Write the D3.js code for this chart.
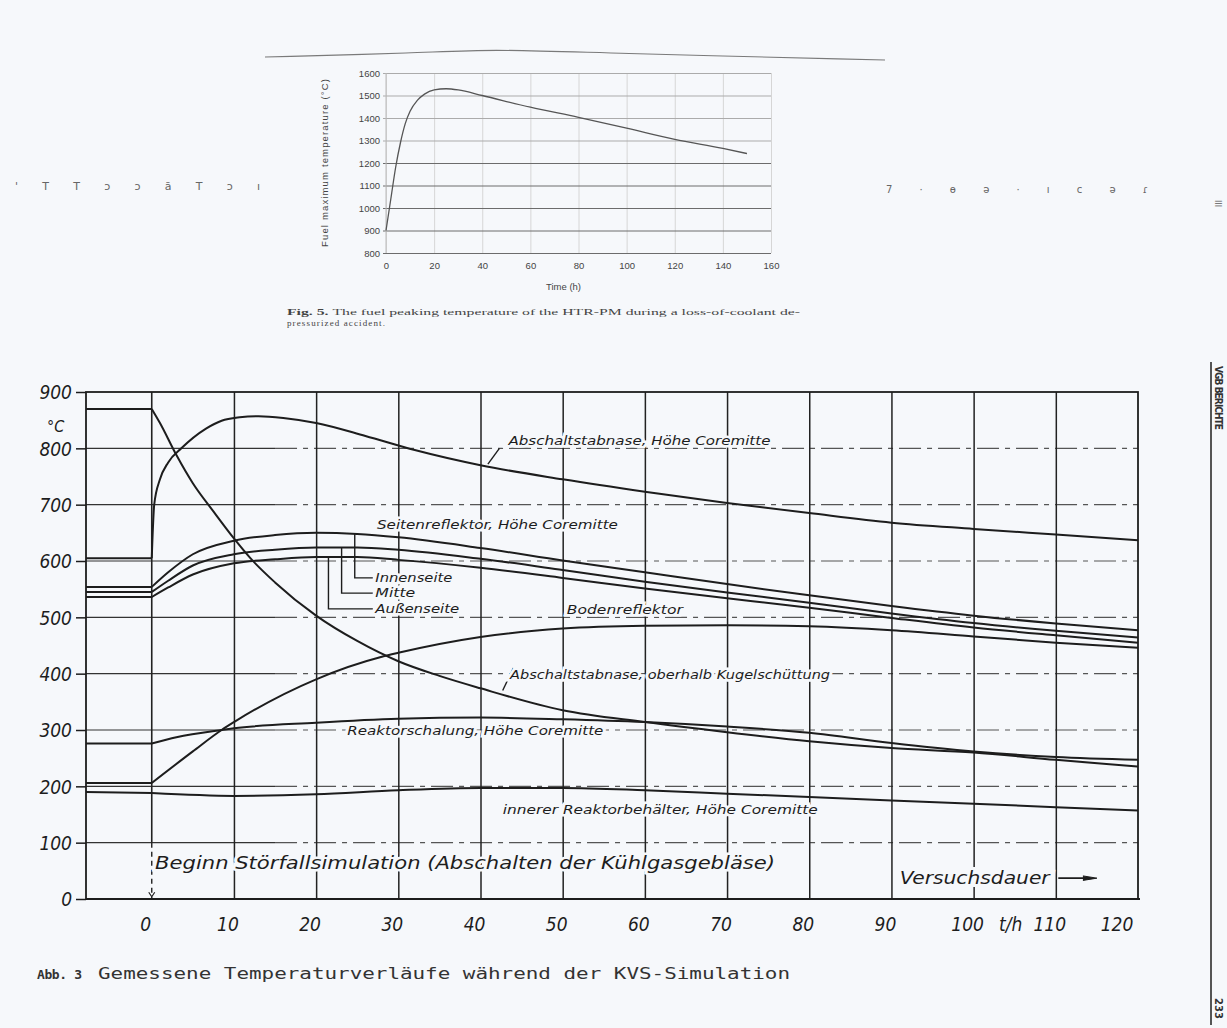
<!DOCTYPE html>
<html>
<head>
<meta charset="utf-8">
<script src="https://cdn.jsdelivr.net/npm/d3@7"></script>
<style>
  body { margin: 0; background: #f6f8fb; }
  svg { display: block; }
</style>
</head>
<body>
<script>
// ---- Fig. 5 (top): fuel peaking temperature, HTR-PM ----
var fuelHours = [0, 2, 4, 6, 8, 10, 13, 16, 20, 25, 30, 40, 60, 80, 100, 120, 140, 150];
var fuelTemp  = [900, 1040, 1180, 1290, 1375, 1430, 1478, 1506, 1525, 1530, 1525, 1500, 1448, 1403, 1355, 1305, 1265, 1242];
var fuelYTicks = [800, 900, 1000, 1100, 1200, 1300, 1400, 1500, 1600];
var fuelXTicks = [0, 20, 40, 60, 80, 100, 120, 140, 160];

// ---- Abb. 3 (bottom): measured temperatures, KVS simulation ----
var abCoreHours = [-8, 0, 0.3, 1, 2, 3.6, 6.6, 8.5, 10.7, 13, 16, 20, 26, 32, 40, 50, 60, 70, 80, 90, 100, 110, 120];
var abCoreTemp  = [605, 605, 700, 745, 775, 800, 835, 849, 855, 857, 854, 845, 822, 797, 770, 745, 723, 703, 685, 668, 657, 647, 637];

var abTopHours = [-8, 0, 1, 3, 5, 7.5, 10, 12, 15, 20, 25, 30, 35, 40, 50, 60, 70, 80, 90, 100, 110, 120];
var abTopTemp  = [870, 870, 845, 788, 738, 688, 640, 605, 562, 503, 458, 422, 396, 374, 335, 314, 296, 280, 268, 260, 247, 235];

var sideHours  = [-8, 0, 2, 5, 10, 15, 20, 25, 30, 40, 50, 60, 70, 80, 90, 100, 110, 120];
var innenTemp  = [554, 554, 580, 612, 636, 646, 650, 648, 642, 623, 601, 580, 559, 539, 520, 503, 489, 477];
var mitteTemp  = [545, 545, 565, 592, 612, 620, 624, 624, 620, 604, 584, 563, 544, 526, 507, 490, 476, 464];
var aussenTemp = [536, 536, 553, 576, 596, 603, 607, 607, 602, 588, 570, 551, 534, 517, 499, 482, 468, 455];

var bodenHours = [-8, 0, 5, 8.5, 10, 20, 28, 30, 40, 50, 60, 70, 80, 90, 100, 110, 120];
var bodenTemp  = [206, 206, 262, 300, 314, 390, 430, 437, 465, 480, 485, 486, 484, 477, 466, 455, 446];

var schalHours = [-8, 0, 3, 8.5, 10, 20, 30, 40, 50, 60, 70, 80, 90, 100, 110, 120];
var schalTemp  = [276, 276, 287, 300, 303, 313, 320, 322, 319, 314, 306, 295, 277, 262, 252, 247];

var behHours = [-8, 0, 10, 20, 30, 40, 50, 60, 70, 80, 90, 100, 110, 120];
var behTemp  = [190, 188, 183, 186, 193, 197, 197, 193, 187, 181, 175, 169, 163, 157];

var mainYTicks = [0, 100, 200, 300, 400, 500, 600, 700, 800, 900];
var mainXTicks = [0, 10, 20, 30, 40, 50, 60, 70, 80, 90, 100, 110, 120];

var W = 1227, H = 1028;
var paper = "#f6f8fb";
var ink = "#1d1d1d";

var svg = d3.select("body").append("svg").attr("width", W).attr("height", H);
svg.append("rect").attr("width", W).attr("height", H).attr("fill", paper);

// scan border line across the top
svg.append("path")
    .attr("d", d3.line().curve(d3.curveBasis)([[265, 57], [420, 53], [490, 49], [600, 53], [885, 60]]))
    .attr("fill", "none").attr("stroke", "#7a7a7a").attr("stroke-width", 1.1);

// garbled scan marks beside the small figure
svg.append("text").attr("x", 15).attr("y", 190).attr("textLength", 245)
    .style("font", "11px 'DejaVu Sans'").attr("fill", "#666").text("' T T ɔ ɔ ā T ɔ ı");
svg.append("text").attr("x", 886).attr("y", 193).attr("textLength", 262)
    .style("font", "10px 'DejaVu Sans'").attr("fill", "#666").text("7 · ɵ ə · ı c ə ɾ");

// ================= top figure =================
(function() {
    var fx = d3.scaleLinear().domain([0, 160]).range([386, 771]);
    var fy = d3.scaleLinear().domain([800, 1600]).range([253, 73]);
    var g = svg.append("g");
    var font = "9.5px 'Liberation Sans', Arial, sans-serif";

    var xa = g.append("g").attr("transform", "translate(0," + fy(800) + ")")
        .call(d3.axisBottom(fx).tickValues(fuelXTicks).tickSize(-(fy(800) - fy(1600))).tickPadding(9));
    xa.select(".domain").remove();
    xa.selectAll("line").attr("stroke", "#d6d6d6");
    xa.selectAll("text").style("font", font).attr("fill", "#444");

    var ya = g.append("g").attr("transform", "translate(" + fx(0) + ",0)")
        .call(d3.axisLeft(fy).tickValues(fuelYTicks).tickFormat(d3.format("d"))
            .tickSize(-(fx(160) - fx(0))).tickPadding(6));
    ya.select(".domain").remove();
    ya.selectAll("line")
        .attr("x1", -3)
        .attr("stroke", function(d) { return d <= 1200 ? "#6c6c6c" : "#ababab"; });
    ya.selectAll("text").style("font", font).attr("fill", "#444");

    g.append("line").attr("x1", fx(0)).attr("x2", fx(0)).attr("y1", fy(800)).attr("y2", fy(1600))
        .attr("stroke", "#bbb");

    var pts = fuelHours.map(function(h, i) { return [h, fuelTemp[i]]; });
    g.append("path")
        .attr("d", d3.line().x(function(d) { return fx(d[0]); }).y(function(d) { return fy(d[1]); })
            .curve(d3.curveMonotoneX)(pts))
        .attr("fill", "none").attr("stroke", "#555").attr("stroke-width", 1.3);

    g.append("text").attr("x", (fx(0) + fx(160)) / 2 - 15).attr("y", 290)
        .attr("text-anchor", "middle").style("font", font).attr("fill", "#444").text("Time (h)");
    g.append("text")
        .attr("transform", "translate(328," + ((fy(800) + fy(1600)) / 2) + ") rotate(-90)")
        .attr("text-anchor", "middle").attr("textLength", 168)
        .style("font", font).attr("fill", "#444").text("Fuel maximum temperature (°C)");

    var cap = g.append("text").attr("x", 287).attr("y", 315)
        .style("font", "9px 'Liberation Serif', serif").attr("fill", "#444");
    cap.append("tspan").style("font-weight", "bold").text("Fig. 5. ");
    cap.append("tspan").text(" The fuel peaking temperature of the HTR-PM during a loss-of-coolant de-");
    cap.attr("textLength", 513).attr("lengthAdjust", "spacingAndGlyphs");
    g.append("text").attr("x", 287).attr("y", 326).attr("textLength", 98)
        .style("font", "9px 'Liberation Serif', serif").attr("fill", "#444").text("pressurized accident.");
})();

// ================= main figure =================
var x = d3.scaleLinear().domain([-8, 120]).range([86, 1138]);
var y = d3.scaleLinear().domain([0, 900]).range([899, 392]);
var g = svg.append("g");

var labelFont = "'DejaVu Sans Condensed', 'DejaVu Sans', sans-serif";

// horizontal grid: solid at the left, broken further right (as on the scan)
var gridY = mainYTicks.filter(function(d) { return d > 0 && d < 900; });
g.selectAll(".hsolid").data(gridY).enter().append("line")
    .attr("x1", x(-8)).attr("x2", x(15))
    .attr("y1", y).attr("y2", y)
    .attr("stroke", "#333").attr("stroke-width", 1.2);
g.selectAll(".hdash").data(gridY).enter().append("line")
    .attr("x1", x(15)).attr("x2", x(120))
    .attr("y1", y).attr("y2", y)
    .attr("stroke", "#555").attr("stroke-width", 1.1)
    .attr("stroke-dasharray", "22,6,5,6");

// vertical grid through an axis
var vx = g.append("g").attr("transform", "translate(0," + y(0) + ")")
    .call(d3.axisBottom(x).tickValues(mainXTicks.filter(function(d) { return d > 0 && d < 120; }))
        .tickSize(-(y(0) - y(900))).tickFormat(""));
vx.select(".domain").remove();
vx.selectAll("line").attr("stroke", "#222").attr("stroke-width", 1.5);

// t = 0 line: solid above 100 °C, dashed below
g.append("line").attr("x1", x(0)).attr("x2", x(0)).attr("y1", y(900)).attr("y2", y(100))
    .attr("stroke", "#222").attr("stroke-width", 1.6);
g.append("line").attr("x1", x(0)).attr("x2", x(0)).attr("y1", y(100)).attr("y2", y(0))
    .attr("stroke", "#222").attr("stroke-width", 1.4).attr("stroke-dasharray", "5,4");
g.append("path")
    .attr("d", d3.line()([[x(0) - 3, y(12)], [x(0), y(4)], [x(0) + 3, y(12)]]))
    .attr("fill", "none").attr("stroke", "#222").attr("stroke-width", 1.2);

// frame
g.append("rect").attr("x", x(-8)).attr("y", y(900))
    .attr("width", x(120) - x(-8)).attr("height", y(0) - y(900))
    .attr("fill", "none").attr("stroke", ink).attr("stroke-width", 1.8);

// y axis ticks and labels
var ya = g.append("g").attr("transform", "translate(" + x(-8) + ",0)")
    .call(d3.axisLeft(y).tickValues(mainYTicks).tickSize(10).tickPadding(4));
ya.select(".domain").remove();
ya.selectAll("line").attr("stroke", ink).attr("stroke-width", 1.5);
ya.selectAll("text")
    .attr("dy", "0.36em")
    .style("font-family", labelFont).style("font-style", "italic").style("font-size", "19px")
    .attr("fill", ink);
g.append("text").attr("x", 47).attr("y", 432)
    .style("font-family", labelFont).style("font-style", "italic").style("font-size", "16px")
    .attr("fill", ink).text("°C");

// x axis labels
g.append("line").attr("x1", x(-8)).attr("x2", x(120) + 2).attr("y1", y(0)).attr("y2", y(0))
    .attr("stroke", ink).attr("stroke-width", 1.8);
g.selectAll(".xl").data(mainXTicks).enter().append("text")
    .attr("x", function(d) { return x(d) - (d === 120 ? 21 : 6); })
    .attr("y", 931)
    .attr("text-anchor", "middle")
    .style("font-family", labelFont).style("font-style", "italic").style("font-size", "19px")
    .attr("fill", ink)
    .text(function(d) { return d; });
g.append("text").attr("x", x(105) - 4).attr("y", 931).attr("text-anchor", "middle")
    .style("font-family", labelFont).style("font-style", "italic").style("font-size", "19px")
    .attr("fill", ink).text("t/h");

// curves: flat before the start, smooth after t = 0
var flat = d3.line().x(function(d) { return x(d[0]); }).y(function(d) { return y(d[1]); });
var smooth = d3.line().x(function(d) { return x(d[0]); }).y(function(d) { return y(d[1]); })
    .curve(d3.curveMonotoneX);

function drawSeries(hours, temps) {
    var pts = hours.map(function(h, i) { return [h, temps[i]]; });
    g.append("path").attr("d", flat(pts.filter(function(p) { return p[0] <= 0; })))
        .attr("fill", "none").attr("stroke", ink).attr("stroke-width", 2);
    g.append("path").attr("d", smooth(pts.filter(function(p) { return p[0] >= 0; })))
        .attr("fill", "none").attr("stroke", ink).attr("stroke-width", 2);
}

drawSeries(abCoreHours, abCoreTemp);
drawSeries(abTopHours, abTopTemp);
drawSeries(sideHours, innenTemp);
drawSeries(sideHours, mitteTemp);
drawSeries(sideHours, aussenTemp);
drawSeries(bodenHours, bodenTemp);
drawSeries(schalHours, schalTemp);
drawSeries(behHours, behTemp);

// leader lines
function leader(points) {
    g.append("path").attr("d", flat(points))
        .attr("fill", "none").attr("stroke", ink).attr("stroke-width", 1.4);
}
leader([[42.3, 800], [40.9, 772]]);
leader([[24.7, 648], [24.7, 570], [26.9, 570]]);
leader([[23.1, 624], [23.1, 543], [26.9, 543]]);
leader([[21.5, 607], [21.5, 515], [26.9, 515]]);
leader([[44.0, 410], [42.7, 370]]);

// labels
function label(txt, t, v, len, size) {
    g.append("text")
        .attr("x", x(t)).attr("y", y(v))
        .attr("textLength", len).attr("lengthAdjust", "spacingAndGlyphs")
        .style("font-family", labelFont).style("font-style", "italic")
        .style("font-size", (size || 13) + "px")
        .attr("fill", ink)
        .attr("stroke", paper).attr("stroke-width", 5).attr("paint-order", "stroke")
        .text(txt);
}
label("Abschaltstabnase, Höhe Coremitte", 43.4, 806, 262);
label("Seitenreflektor, Höhe Coremitte", 27.4, 656, 241);
label("Innenseite", 27.2, 563, 77);
label("Mitte", 27.2, 536, 40);
label("Außenseite", 27.2, 508, 84);
label("Bodenreflektor", 50.5, 506, 116);
label("Abschaltstabnase, oberhalb Kugelschüttung", 43.6, 390, 320);
label("Reaktorschalung, Höhe Coremitte", 23.8, 292, 256);
label("innerer Reaktorbehälter, Höhe Coremitte", 42.7, 151, 315);
label("Beginn Störfallsimulation (Abschalten der Kühlgasgebläse)", 0.4, 54, 620, 18);
g.append("text")
    .attr("x", x(91)).attr("y", y(27)).attr("textLength", 150).attr("lengthAdjust", "spacingAndGlyphs")
    .style("font-family", labelFont).style("font-style", "italic").style("font-size", "17px")
    .attr("fill", ink).attr("stroke", paper).attr("stroke-width", 6).attr("paint-order", "stroke")
    .text("Versuchsdauer");
g.append("line").attr("x1", x(110.3)).attr("x2", x(114.2)).attr("y1", y(37)).attr("y2", y(37))
    .attr("stroke", ink).attr("stroke-width", 1.6);
g.append("path")
    .attr("d", d3.line()([[x(113.3), y(41)], [x(115), y(37)], [x(113.3), y(33)]]))
    .attr("fill", ink).attr("stroke", ink);

// caption
var capFont = "'DejaVu Sans Mono', 'Liberation Mono', monospace";
svg.append("text").attr("x", 37).attr("y", 979).attr("textLength", 45)
    .style("font-family", capFont).style("font-size", "13px").style("font-weight", "bold")
    .attr("fill", "#333").text("Abb. 3");
svg.append("text").attr("x", 98).attr("y", 979).attr("textLength", 692)
    .attr("lengthAdjust", "spacingAndGlyphs")
    .style("font-family", capFont).style("font-size", "15px")
    .attr("fill", "#333").text("Gemessene Temperaturverläufe während der KVS-Simulation");

// right page edge
svg.append("line").attr("x1", 1211).attr("x2", 1211).attr("y1", 362).attr("y2", 1025)
    .attr("stroke", "#555").attr("stroke-width", 2);
svg.append("text").attr("transform", "translate(1215,366) rotate(90)")
    .style("font", "bold 10px 'DejaVu Sans Condensed', 'DejaVu Sans'").attr("fill", "#333")
    .attr("textLength", 64).text("VGB BERICHTE");
svg.append("text").attr("transform", "translate(1215,998) rotate(90)")
    .style("font", "bold 10px 'DejaVu Sans'").attr("fill", "#333").text("233");
svg.append("text").attr("transform", "translate(1215,200) rotate(90)")
    .style("font", "8px 'DejaVu Sans'").attr("fill", "#666").text("III");
</script>
</body>
</html>
